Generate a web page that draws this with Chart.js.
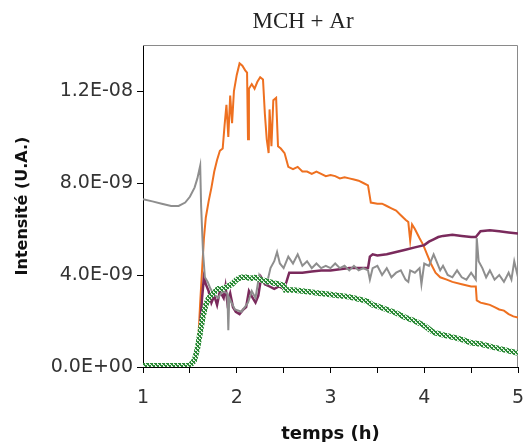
<!DOCTYPE html>
<html>
<head>
<meta charset="utf-8">
<script src="https://cdn.jsdelivr.net/npm/chart.js@4"></script>
<style>
  html, body { margin: 0; padding: 0; background: #fff; }
  #wrap { width: 526px; height: 442px; }
</style>
</head>
<body>
<div id="wrap"><canvas id="myChart" width="526" height="442"></canvas></div>
<script>
// valeurs (intensité en unités de 1E-09)
const chartTitle = 'MCH + Ar';

const grayT = [1.00, 1.10, 1.20, 1.30, 1.38, 1.45, 1.50, 1.55, 1.58, 1.61, 1.62, 1.64, 1.66, 1.69, 1.72, 1.75, 1.80, 1.85, 1.90, 1.91, 1.92, 1.98, 2.05, 2.12, 2.16, 2.20, 2.24, 2.28, 2.32, 2.36, 2.40, 2.43, 2.46, 2.50, 2.55, 2.60, 2.65, 2.70, 2.75, 2.80, 2.85, 2.90, 2.95, 3.00, 3.05, 3.10, 3.15, 3.20, 3.25, 3.30, 3.35, 3.40, 3.42, 3.45, 3.50, 3.55, 3.60, 3.65, 3.70, 3.75, 3.80, 3.83, 3.85, 3.90, 3.95, 3.97, 4.00, 4.05, 4.10, 4.13, 4.17, 4.20, 4.25, 4.30, 4.35, 4.40, 4.45, 4.50, 4.55, 4.56, 4.58, 4.62, 4.66, 4.70, 4.75, 4.80, 4.85, 4.90, 4.93, 4.96, 5.00];
const grayV = [7.30, 7.20, 7.10, 7.00, 7.00, 7.15, 7.40, 7.80, 8.20, 8.75, 7.00, 5.00, 3.90, 3.70, 3.40, 3.20, 3.00, 3.30, 3.20, 1.60, 3.00, 2.50, 2.40, 2.80, 3.30, 3.00, 4.00, 3.70, 3.60, 4.30, 4.60, 5.00, 4.50, 4.30, 4.80, 4.50, 4.90, 4.40, 4.60, 4.30, 4.50, 4.30, 4.40, 4.30, 4.50, 4.30, 4.40, 4.20, 4.40, 4.20, 4.30, 4.20, 3.80, 4.30, 4.40, 4.00, 4.30, 3.90, 4.10, 4.20, 3.80, 3.70, 4.20, 4.10, 4.30, 3.60, 4.50, 4.40, 4.90, 4.60, 4.20, 4.40, 4.00, 3.90, 4.20, 3.90, 3.80, 4.10, 3.80, 5.60, 4.60, 4.30, 3.90, 4.20, 3.80, 4.00, 3.70, 4.10, 3.80, 4.60, 3.90];

const purpleT = [1.00, 1.50, 1.55, 1.60, 1.63, 1.65, 1.67, 1.70, 1.73, 1.76, 1.79, 1.82, 1.86, 1.88, 1.90, 1.93, 1.96, 1.99, 2.03, 2.07, 2.10, 2.13, 2.17, 2.20, 2.23, 2.26, 2.30, 2.35, 2.40, 2.45, 2.50, 2.53, 2.56, 2.60, 2.70, 2.80, 2.90, 3.00, 3.10, 3.20, 3.30, 3.40, 3.42, 3.45, 3.50, 3.60, 3.70, 3.80, 3.90, 4.00, 4.05, 4.10, 4.15, 4.20, 4.30, 4.40, 4.50, 4.55, 4.60, 4.70, 4.80, 4.90, 5.00];
const purpleV = [0.05, 0.05, 0.20, 1.20, 3.00, 3.90, 3.60, 3.30, 2.80, 3.10, 2.70, 3.30, 3.00, 3.50, 2.80, 3.20, 2.60, 2.40, 2.30, 2.50, 2.60, 3.30, 3.00, 2.80, 3.10, 3.90, 3.60, 3.50, 3.40, 3.50, 3.40, 3.70, 4.10, 4.10, 4.10, 4.15, 4.20, 4.20, 4.25, 4.30, 4.30, 4.30, 4.80, 4.90, 4.85, 4.90, 5.00, 5.10, 5.20, 5.30, 5.45, 5.55, 5.65, 5.70, 5.75, 5.70, 5.65, 5.65, 5.90, 5.95, 5.90, 5.85, 5.80];

const orangeT = [1.00, 1.50, 1.55, 1.59, 1.61, 1.63, 1.65, 1.67, 1.70, 1.73, 1.76, 1.79, 1.82, 1.85, 1.87, 1.89, 1.91, 1.93, 1.95, 1.97, 2.00, 2.03, 2.06, 2.09, 2.11, 2.12, 2.13, 2.16, 2.19, 2.22, 2.25, 2.28, 2.30, 2.32, 2.34, 2.35, 2.37, 2.39, 2.42, 2.44, 2.47, 2.51, 2.53, 2.55, 2.60, 2.65, 2.70, 2.75, 2.80, 2.85, 2.90, 2.95, 3.00, 3.05, 3.10, 3.15, 3.20, 3.25, 3.30, 3.35, 3.40, 3.43, 3.50, 3.55, 3.60, 3.65, 3.70, 3.75, 3.80, 3.83, 3.85, 3.87, 3.90, 3.95, 3.99, 4.03, 4.07, 4.12, 4.17, 4.24, 4.30, 4.40, 4.50, 4.55, 4.56, 4.60, 4.65, 4.70, 4.75, 4.80, 4.85, 4.90, 4.95, 5.00];
const orangeV = [0.05, 0.05, 0.30, 1.20, 2.80, 4.20, 5.60, 6.50, 7.20, 7.80, 8.50, 9.00, 9.40, 9.50, 10.50, 11.40, 10.00, 11.80, 10.60, 12.00, 12.70, 13.20, 13.10, 12.90, 12.80, 9.90, 12.10, 12.30, 12.10, 12.40, 12.60, 12.50, 11.00, 9.90, 9.30, 11.20, 9.60, 11.60, 11.70, 9.60, 9.50, 9.30, 9.00, 8.70, 8.60, 8.70, 8.50, 8.50, 8.40, 8.50, 8.40, 8.30, 8.35, 8.30, 8.20, 8.25, 8.20, 8.15, 8.10, 8.00, 7.90, 7.15, 7.10, 7.10, 7.00, 6.90, 6.80, 6.60, 6.40, 6.30, 5.50, 6.20, 6.00, 5.60, 5.30, 4.90, 4.50, 4.10, 3.90, 3.80, 3.70, 3.60, 3.50, 3.50, 2.90, 2.80, 2.75, 2.70, 2.60, 2.50, 2.45, 2.30, 2.20, 2.15];

const greenT = [1.00, 1.50, 1.55, 1.58, 1.61, 1.64, 1.67, 1.70, 1.75, 1.80, 1.85, 1.90, 1.95, 2.00, 2.05, 2.10, 2.15, 2.20, 2.25, 2.30, 2.35, 2.40, 2.45, 2.50, 2.52, 2.60, 2.70, 2.80, 2.90, 3.00, 3.10, 3.20, 3.30, 3.40, 3.45, 3.50, 3.60, 3.70, 3.80, 3.90, 4.00, 4.05, 4.10, 4.20, 4.30, 4.40, 4.50, 4.60, 4.70, 4.80, 4.90, 5.00];
const greenV = [0.05, 0.05, 0.30, 0.80, 1.50, 2.20, 2.70, 3.00, 3.20, 3.40, 3.40, 3.50, 3.60, 3.80, 3.90, 3.90, 3.85, 3.90, 3.80, 3.75, 3.70, 3.65, 3.60, 3.55, 3.35, 3.35, 3.30, 3.25, 3.20, 3.15, 3.10, 3.05, 2.95, 2.85, 2.70, 2.65, 2.50, 2.35, 2.15, 2.00, 1.80, 1.65, 1.50, 1.40, 1.30, 1.20, 1.05, 1.00, 0.90, 0.80, 0.70, 0.60];

const xTickValues = [1, 1.5, 2, 2.5, 3, 3.5, 4, 4.5, 5];
const yTickValues = [0, 4, 8, 12];
const yTickLabels = ['0.0E+00', '4.0E-09', '8.0E-09', '1.2E-08'];

const toPoints = (t, v) => t.map((x, i) => ({ x: x, y: v[i] }));

const canvas = document.getElementById('myChart');
const ctx = canvas.getContext('2d');

// motif hachuré pour la courbe verte
const pc = document.createElement('canvas');
pc.width = 4; pc.height = 4;
const p = pc.getContext('2d');
p.fillStyle = '#e8f4e8'; p.fillRect(0, 0, 4, 4);
p.fillStyle = '#2a8a36';
[[0,0],[1,1],[2,2],[3,3],[3,0],[2,1],[1,2],[0,3],[0,1],[2,3]].forEach(([a, b]) => p.fillRect(a, b, 1, 1));
const greenPattern = ctx.createPattern(pc, 'repeat');

// titre (décalé comme dans la figure) et cadre gris en haut et à droite
const framePlugin = {
  id: 'frame',
  beforeDatasetsDraw(chart) {
    const a = chart.chartArea, c = chart.ctx;
    c.save();
    c.strokeStyle = '#8a8a8a';
    c.lineWidth = 1;
    c.beginPath();
    c.moveTo(a.left, a.top + 0.5);
    c.lineTo(a.right - 0.5, a.top + 0.5);
    c.lineTo(a.right - 0.5, a.bottom);
    c.stroke();
    c.fillStyle = '#222';
    c.font = '23px "Liberation Serif"';
    c.textAlign = 'center';
    c.textBaseline = 'middle';
    c.fillText(chartTitle, 303, 22);
    c.restore();
  }
};

Chart.defaults.font.family = 'DejaVu Sans';
Chart.defaults.color = '#333';

new Chart(ctx, {
  type: 'line',
  data: {
    datasets: [
      { label: 'vert', data: toPoints(greenT, greenV), borderColor: greenPattern, borderWidth: 5.5, order: 0 },
      { label: 'gris', data: toPoints(grayT, grayV), borderColor: '#8e8e8e', borderWidth: 2, order: 1 },
      { label: 'violet', data: toPoints(purpleT, purpleV), borderColor: '#7a2a5c', borderWidth: 2.5, order: 2 },
      { label: 'orange', data: toPoints(orangeT, orangeV), borderColor: '#ee7020', borderWidth: 2, order: 3 }
    ]
  },
  options: {
    responsive: false,
    animation: false,
    parsing: false,
    elements: { point: { radius: 0 }, line: { tension: 0 } },
    layout: { padding: { left: 0, right: 8, top: 45, bottom: 0 } },
    plugins: {
      legend: { display: false },
      tooltip: { enabled: false },
      title: { display: false }
    },
    scales: {
      x: {
        type: 'linear',
        min: 1, max: 5,
        afterFit(scale) { scale.height = 75; scale.paddingLeft = 0; scale.paddingRight = 0; },
        afterBuildTicks(scale) { scale.ticks = xTickValues.map(v => ({ value: v })); },
        grid: { display: true, drawOnChartArea: false, drawTicks: true, tickLength: 6, color: '#000' },
        border: { display: true, color: '#000', width: 1 },
        ticks: {
          autoSkip: false, maxRotation: 0, padding: 14,
          font: { size: 19 },
          callback: v => (Number.isInteger(v) ? String(v) : '')
        },
        title: {
          display: true, text: 'temps (h)', color: '#111',
          font: { size: 18, weight: 'bold' },
          padding: { top: 0, bottom: -3 }
        }
      },
      y: {
        type: 'linear',
        min: 0, max: 14,
        afterFit(scale) { scale.width = 143; scale.paddingTop = 0; scale.paddingBottom = 0; },
        afterBuildTicks(scale) { scale.ticks = yTickValues.map(v => ({ value: v })); },
        grid: { display: true, drawOnChartArea: false, drawTicks: true, tickLength: 6, color: '#000' },
        border: { display: true, color: '#000', width: 1 },
        ticks: {
          padding: 4,
          font: { size: 19 },
          callback: v => yTickLabels[yTickValues.indexOf(v)]
        },
        title: {
          display: true, text: 'Intensité (U.A.)', color: '#111',
          font: { size: 16, weight: 'bold' },
          padding: { top: 13, bottom: 0 }
        }
      }
    }
  },
  plugins: [framePlugin]
});
</script>
</body>
</html>
